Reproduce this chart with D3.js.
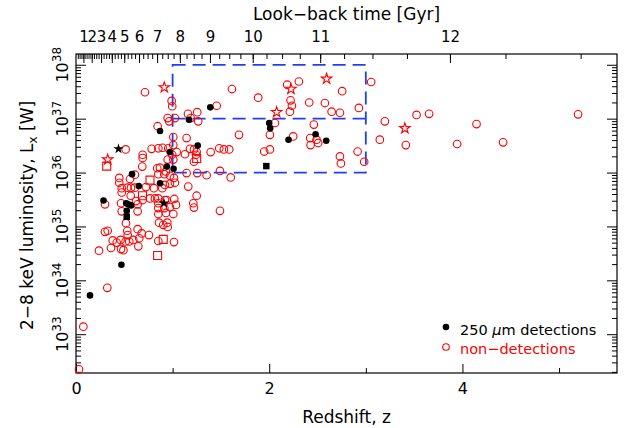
<!DOCTYPE html>
<html>
<head>
<meta charset="utf-8">
<script src="https://cdn.jsdelivr.net/npm/d3@7"></script>
<style>
  body { margin: 0; background: #fff; }
  text { font-family: "DejaVu Sans", sans-serif; }
</style>
</head>
<body>
<div id="chart"></div>
<script>
// data: [redshift z, log10 L_x (W)]
const detCircles = [
  [1.39,37.21],[1.17,36.98],[0.87,36.77],[1.26,36.50],[0.97,36.38],[0.94,36.11],[1.01,36.07],
  [0.58,35.97],[0.65,35.75],[0.87,35.80],[0.285,35.48],[0.52,35.43],[0.54,35.41],[0.57,35.39],
  [0.525,35.29],[0.47,34.29],[0.145,33.72],[2.00,36.92],[2.01,36.82],[2.20,36.61],[2.48,36.71],[2.59,36.59]
];
const detSquares = [[0.525,35.18],[1.97,36.12]];
const detStars = [[0.44,36.44],[0.91,35.43]];

const nonSquares = [[0.318,36.12],[1.249,36.26],[0.766,35.86],[0.688,35.57],[0.903,34.76],[0.845,34.46]];
const nonStars = [[0.328,36.24],[0.914,37.58],[2.077,37.12],[2.225,37.55],[2.594,37.74],[3.404,36.82]];
const nonCircles = [
  [0.714,37.49],[0.99,37.33],[0.996,37.23],[1.159,37.09],[1.255,37.12],[1.187,37.01],[1.265,36.95],
  [1.456,37.24],[1.614,37.55],[1.886,37.39],[0.949,37.01],[0.965,36.95],[1.024,37.01],[0.845,36.86],
  [1.007,36.66],[1.145,36.64],[1.687,36.70],[1.18,36.44],[1.221,36.43],[1.249,36.38],[1.483,36.45],
  [1.531,36.43],[1.586,36.43],[1.394,36.38],[0.783,36.44],[0.852,36.45],[0.897,36.46],[0.955,36.45],
  [0.996,36.33],[1.042,36.38],[1.007,36.51],[0.69,36.33],[0.69,36.27],[0.514,36.43],[1.242,36.33],
  [1.221,36.20],[1.128,36.34],[1.49,36.03],[1.352,35.95],[1.601,35.91],[1.145,35.99],[1.255,35.99],
  [0.686,36.11],[0.949,36.24],[1.007,36.24],[0.841,36.08],[0.869,36.09],[0.931,36.02],[0.852,35.97],
  [0.914,35.97],[0.973,35.94],[1.014,35.90],[1.024,35.81],[0.973,35.79],[0.921,35.77],[1.162,35.74],
  [0.448,35.90],[0.448,35.81],[0.559,35.88],[0.61,35.96],[0.473,35.71],[0.531,35.72],[0.569,35.72],
  [0.61,35.72],[0.724,35.73],[0.807,35.71],[0.893,35.71],[1.249,35.57],[0.766,35.52],[0.817,35.52],
  [0.69,35.49],[0.852,35.43],[0.938,35.49],[1.017,35.51],[1.035,35.40],[0.973,35.36],[0.914,35.34],
  [0.852,35.34],[1.214,35.43],[1.221,35.35],[1.49,35.29],[0.852,35.23],[0.931,35.25],[1.007,35.23],
  [0.859,35.07],[0.945,35.07],[0.30,35.41],[0.466,35.43],[0.638,35.41],[0.638,35.28],[0.473,35.28],
  [0.473,35.63],[0.566,35.57],[0.621,35.47],[0.852,35.52],[0.921,35.49],[0.517,35.06],[0.949,34.99],
  [0.903,35.03],[0.531,34.92],[0.535,34.84],[0.30,34.90],[0.328,34.92],[0.638,34.95],[0.68,34.87],
  [0.755,34.84],[0.38,34.74],[0.421,34.70],[0.462,34.75],[0.514,34.72],[0.551,34.72],[0.593,34.75],
  [0.655,34.78],[0.852,34.73],[1.014,34.71],[0.362,34.60],[0.466,34.58],[0.491,34.56],[0.645,34.63],
  [0.238,34.55],[0.324,33.86],[0.076,33.14],[0.031,32.35],
  [2.186,37.63],[2.307,37.69],[3.055,37.68],[2.755,37.51],[2.221,37.34],[2.235,37.24],[2.214,37.13],
  [2.414,37.30],[2.576,37.29],[2.646,37.13],[2.732,37.11],[2.928,37.20],[2.059,36.92],[2.007,36.70],
  [2.248,36.67],[2.462,36.89],[2.424,36.64],[2.428,36.51],[2.49,36.61],[2.507,36.55],[1.948,36.39],
  [2.007,36.43],[3.145,36.61],[2.915,36.39],[2.732,36.30],[2.742,36.17],[2.983,36.20],
  [3.197,36.95],[3.525,37.07],[3.655,37.09],[3.414,36.51],[3.945,36.53],[4.146,36.90],[4.421,36.56],[5.197,37.08]
];

// selection box: z 1-3, L 1e36-1e38
const boxZ = [1, 3];
const boxL = [36, 37, 38];

const zMajor = [0, 2, 4];
const zMinor = [1, 3, 5];
const yDecades = [33, 34, 35, 36, 37, 38];
const lbMajor = [1,2,3,4,5,6,7,8,9,10,11,12];

//plot frame
let margin = {top:54, right:15, bottom:55, left:76};
let width = 632 - margin.left - margin.right;
let height = 428 - margin.top - margin.bottom;

let svg = d3.select("#chart").append("svg")
  .attr("width", 632).attr("height", 428);

let g = svg.append("g")
  .attr("transform", `translate(${margin.left},${margin.top})`);

let x = d3.scaleLinear().domain([0, 5.6]).range([0, width]);
let y = d3.scaleLog().domain([Math.pow(10,32.28), Math.pow(10,38.2)]).range([height, 0]);
const L = v => y(Math.pow(10, v));

// flat LCDM look-back time -> redshift
const A = (977.8/71.2) * 2 / (3*Math.sqrt(0.73));
const B = Math.sqrt(0.73/0.27);
const t0 = A * Math.asinh(B);
function zOfLookback(t){
  let age = t0 - t;
  return Math.pow(Math.sinh(age/A)/B, -2/3) - 1;
}

// log minor ticks
let yMinor = [];
for (let e = 32; e <= 38; e++){
  for (let m = 2; m <= 9; m++){
    let v = m*Math.pow(10,e);
    if (v > y.domain()[0] && v < y.domain()[1]) yMinor.push(v);
  }
}
let lbMinor = [];
for (let t = 0.25; t < 12.6; t += 0.25){
  if (zOfLookback(t) <= 5.6) lbMinor.push(t);
}

function styleAxis(sel){
  sel.select(".domain").remove();
  sel.selectAll("line").attr("stroke", "#000").attr("stroke-width", 1);
}

//bottom axis
g.append("g").attr("transform", `translate(0,${height})`)
  .call(d3.axisBottom(x).tickValues(zMinor).tickSize(-5).tickFormat(""))
  .call(styleAxis);
g.append("g").attr("transform", `translate(0,${height})`)
  .call(d3.axisBottom(x).tickValues(zMajor).tickSize(-9).tickPadding(10).tickFormat(d3.format("d")))
  .call(styleAxis)
  .selectAll("text").attr("font-size", "16px").attr("font-family", "DejaVu Sans").attr("fill", "#000");

//left and right axes
[0, width].forEach((px, i) => {
  let mk = i === 0 ? d3.axisLeft : d3.axisRight;
  g.append("g").attr("transform", `translate(${px},0)`)
    .call(mk(y).tickValues(yMinor).tickSize(-5).tickFormat(""))
    .call(styleAxis);
  g.append("g").attr("transform", `translate(${px},0)`)
    .call(mk(y).tickValues(yDecades.map(e => Math.pow(10,e))).tickSize(-10).tickFormat(""))
    .call(styleAxis);
});

//top axis: look-back time
g.append("g")
  .call(d3.axisTop(x).tickValues(lbMinor.map(zOfLookback)).tickSize(-5).tickFormat(""))
  .call(styleAxis);
g.append("g")
  .call(d3.axisTop(x).tickValues(lbMajor.map(zOfLookback)).tickSize(-9).tickPadding(12)
    .tickFormat((d, i) => lbMajor[i]))
  .call(styleAxis)
  .selectAll("text").attr("font-size", "15px").attr("font-family", "Liberation Sans, Arial, sans-serif").attr("fill", "#000");

//frame
g.append("rect").attr("width", width).attr("height", height)
  .attr("fill", "none").attr("stroke", "#000").attr("stroke-width", 1.2);

//y tick labels 10^n, rotated
yDecades.forEach(e => {
  let t = svg.append("text")
    .attr("transform", `translate(${margin.left - 8},${margin.top + L(e)}) rotate(-90)`)
    .attr("text-anchor", "middle").attr("fill", "#000");
  t.append("tspan").attr("font-size", "16px").text("10");
  t.append("tspan").attr("font-size", "12px").attr("dy", -7).text(e);
});

//axis titles
svg.append("text")
  .attr("x", margin.left + width/2).attr("y", 423)
  .attr("text-anchor", "middle").attr("font-size", "17px")
  .text("Redshift, z");
svg.append("text")
  .attr("x", margin.left + width/2).attr("y", 20)
  .attr("text-anchor", "middle").attr("font-size", "17px")
  .text("Look\u2212back time [Gyr]");
let yt = svg.append("text")
  .attr("transform", `translate(33,${margin.top + height/2 + 2}) rotate(-90)`)
  .attr("text-anchor", "middle").attr("font-size", "17px");
yt.append("tspan").text("2\u22128 keV luminosity, L");
yt.append("tspan").attr("font-size", "12px").attr("dy", 4).text("x");
yt.append("tspan").attr("dy", -4).text(" [W]");

//dashed selection box
let bx = g.append("g").attr("fill", "none").attr("stroke", "#2040f0")
  .attr("stroke-width", 1.8).attr("stroke-dasharray", "13,7");
bx.append("rect")
  .attr("x", x(boxZ[0])).attr("y", L(boxL[2]))
  .attr("width", x(boxZ[1]) - x(boxZ[0])).attr("height", L(boxL[0]) - L(boxL[2]));
bx.append("line")
  .attr("x1", x(boxZ[0])).attr("x2", x(boxZ[1]))
  .attr("y1", L(boxL[1])).attr("y2", L(boxL[1]));

//non-detections
let red = "#ff0000";
g.selectAll("circle.non").data(nonCircles).enter().append("circle")
  .attr("class", "non")
  .attr("cx", d => x(d[0])).attr("cy", d => L(d[1])).attr("r", 3.8)
  .attr("fill", "none").attr("stroke", red).attr("stroke-width", 1.1);
g.selectAll("path.nsq").data(nonSquares).enter().append("path")
  .attr("class", "nsq")
  .attr("d", d3.symbol().type(d3.symbolSquare).size(64))
  .attr("transform", d => `translate(${x(d[0])},${L(d[1])})`)
  .attr("fill", "none").attr("stroke", red).attr("stroke-width", 1.1);
g.selectAll("path.nst").data(nonStars).enter().append("path")
  .attr("class", "nst")
  .attr("d", d3.symbol().type(d3.symbolStar).size(34))
  .attr("transform", d => `translate(${x(d[0])},${L(d[1])})`)
  .attr("fill", "none").attr("stroke", red).attr("stroke-width", 1.1);

//250 um detections
g.selectAll("circle.det").data(detCircles).enter().append("circle")
  .attr("class", "det")
  .attr("cx", d => x(d[0])).attr("cy", d => L(d[1])).attr("r", 3.3)
  .attr("fill", "#000");
g.selectAll("path.dsq").data(detSquares).enter().append("path")
  .attr("class", "dsq")
  .attr("d", d3.symbol().type(d3.symbolSquare).size(42))
  .attr("transform", d => `translate(${x(d[0])},${L(d[1])})`)
  .attr("fill", "#000");
g.selectAll("path.dst").data(detStars).enter().append("path")
  .attr("class", "dst")
  .attr("d", d3.symbol().type(d3.symbolStar).size(34))
  .attr("transform", d => `translate(${x(d[0])},${L(d[1])})`)
  .attr("fill", "#000");

//legend
svg.append("circle").attr("cx", 446).attr("cy", 327).attr("r", 3.3).attr("fill", "#000");
let lt = svg.append("text").attr("x", 460).attr("y", 335).attr("font-size", "14.5px").attr("fill", "#000");
lt.append("tspan").text("250 ");
lt.append("tspan").attr("font-style", "italic").text("\u03bc");
lt.append("tspan").text("m detections");
svg.append("circle").attr("cx", 446).attr("cy", 347).attr("r", 3.3)
  .attr("fill", "none").attr("stroke", red).attr("stroke-width", 1.1);
svg.append("text").attr("x", 460).attr("y", 354).attr("font-size", "14.5px").attr("fill", red)
  .text("non\u2212detections");
</script>
</body>
</html>
